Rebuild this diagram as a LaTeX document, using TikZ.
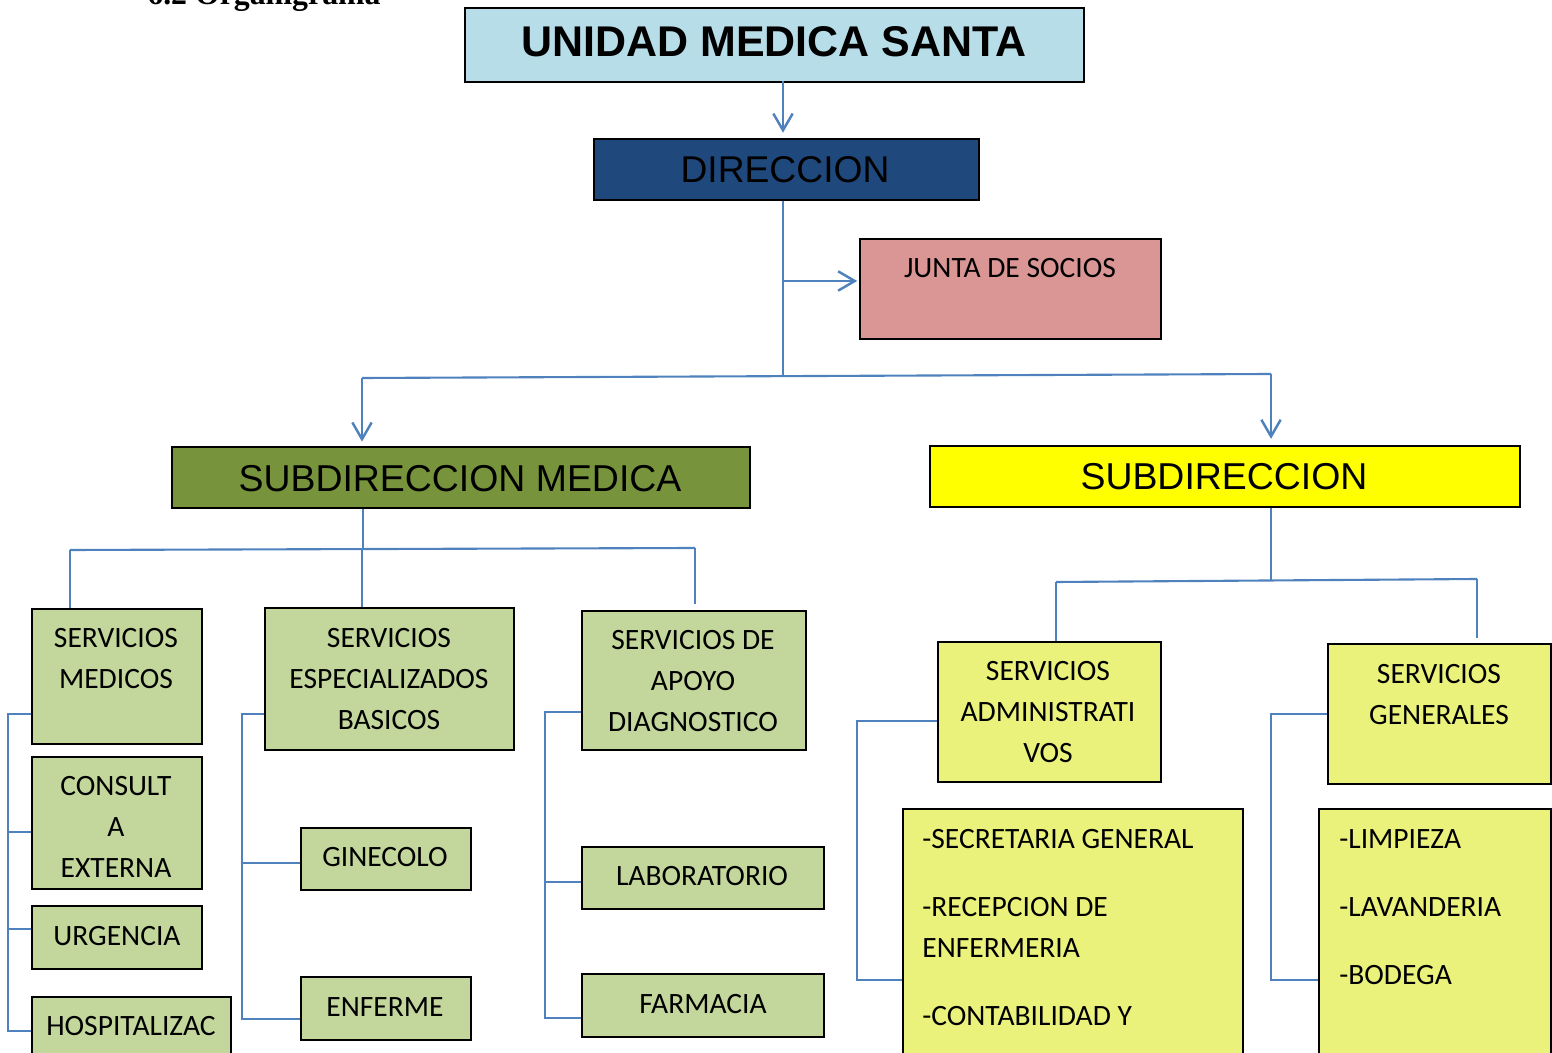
\documentclass[tikz,border=0pt]{standalone}
\usepackage{fontspec}
\setmainfont{Carlito}
\newfontfamily\arialf{Liberation Sans}
\newfontfamily\timesf{Liberation Serif}
\usetikzlibrary{arrows.meta}
\definecolor{lineblue}{HTML}{4F81BD}
\definecolor{titleblue}{HTML}{B7DDE8}
\definecolor{dirblue}{HTML}{1F497D}
\definecolor{juntared}{HTML}{D99694}
\definecolor{submedgreen}{HTML}{77933C}
\definecolor{subyellow}{HTML}{FFFF00}
\definecolor{lgreen}{HTML}{C3D69B}
\definecolor{lyellow}{HTML}{EBF27B}
\newcommand\bx[6]{\node[box,fill=#6,minimum width={(#4-#2)*0.02cm},minimum height={(#5-#3)*0.02cm}] (#1) at (#2,#3) {};}
\tikzset{
  conn/.style={draw=lineblue,line width=1.2pt},
  arr/.style={conn,-{Straight Barb[length=9.5pt,width=11pt,line width=1.4pt]}},
  box/.style={draw=black,line width=1.1pt,inner sep=0pt,anchor=north west},
  cal/.style={inner sep=0pt,align=center,anchor=north,font=\fontsize{16.8}{23.4}\selectfont},
  calL/.style={inner sep=0pt,align=left,anchor=north west,font=\fontsize{16.8}{23.4}\selectfont},
}
\begin{document}
\begin{tikzpicture}[x=0.02cm,y=-0.02cm]
\useasboundingbox (0,0) rectangle (1552,1053);
% heading (cut off at top, as in the reference)
\node[anchor=base west,inner sep=0pt,font=\timesf\bfseries\fontsize{18.1}{20}\selectfont] (head) at (147,5) {6.2 Organigrama};
% boxes
\bx{title}{464}{7}{1083}{81}{titleblue}
\bx{dir}{593}{138}{978}{199}{dirblue}
\bx{junta}{859}{238}{1160}{338}{juntared}
\bx{submed}{171}{446}{749}{507}{submedgreen}
\bx{sub}{929}{445}{1519}{506}{subyellow}
\bx{smed}{31}{608}{201}{743}{lgreen}
\bx{cons}{31}{756}{201}{888}{lgreen}
\bx{urg}{31}{905}{201}{968}{lgreen}
\bx{hosp}{31}{996}{230}{1066}{lgreen}
\bx{esp}{264}{607}{513}{749}{lgreen}
\bx{gine}{300}{827}{470}{889}{lgreen}
\bx{enfe}{300}{976}{470}{1039}{lgreen}
\bx{apoyo}{581}{610}{805}{749}{lgreen}
\bx{lab}{581}{846}{823}{908}{lgreen}
\bx{farm}{581}{973}{823}{1036}{lgreen}
\bx{adm}{937}{641}{1160}{781}{lyellow}
\bx{secr}{902}{808}{1242}{1070}{lyellow}
\bx{gen}{1327}{643}{1550}{783}{lyellow}
\bx{limp}{1318}{808}{1550}{1070}{lyellow}
% texts
\node[inner sep=0pt,font=\arialf\bfseries\fontsize{24.45}{28}\selectfont] (ttitle) at (774,42) {UNIDAD MEDICA SANTA};
\node[inner sep=0pt,font=\arialf\fontsize{21.2}{24}\selectfont] (tdir) at (785,170) {DIRECCION};
\node[cal] (tjunta) at (1010,258) {JUNTA DE SOCIOS};
\node[inner sep=0pt,font=\arialf\fontsize{21.3}{24}\selectfont] (tsubmed) at (460,479) {SUBDIRECCION MEDICA};
\node[inner sep=0pt,font=\arialf\fontsize{21.3}{24}\selectfont] (tsub) at (1224,477) {SUBDIRECCION};
\node[cal] (tsmed) at (116,628) {SERVICIOS\\MEDICOS};
\node[cal] (tcons) at (116,776) {CONSULT\\A\\EXTERNA};
\node[cal] (turg) at (117,926) {URGENCIA};
\node[cal] (thosp) at (131,1016) {HOSPITALIZAC};
\node[cal] (tesp) at (389,628) {SERVICIOS\\ESPECIALIZADOS\\BASICOS};
\node[cal] (tgine) at (385,847) {GINECOLO};
\node[cal] (tenfe) at (385,997) {ENFERME};
\node[cal] (tapoyo) at (693,630) {SERVICIOS DE\\APOYO\\DIAGNOSTICO};
\node[cal] (tlab) at (702,866) {LABORATORIO};
\node[cal] (tfarm) at (703,994) {FARMACIA};
\node[cal] (tadm) at (1048,661) {SERVICIOS\\ADMINISTRATI\\VOS};
\node[cal] (tgen) at (1439,664) {SERVICIOS\\GENERALES};
\node[calL] (ts1) at (922,829) {-SECRETARIA GENERAL};
\node[calL] (ts2) at (922,897) {-RECEPCION DE\\ENFERMERIA};
\node[calL] (ts3) at (922,1006) {-CONTABILIDAD Y};
\node[calL] (tl1) at (1339,829) {-LIMPIEZA};
\node[calL] (tl2) at (1339,897) {-LAVANDERIA};
\node[calL] (tl3) at (1339,965) {-BODEGA};
% connectors top
\coordinate (ta) at (783,81);
\draw[arr,shorten >=3pt] (ta) -- (ta |- dir.north);
\coordinate (d1) at (783,281);
\coordinate (d2) at (783,376);
\draw[conn] (d2 |- dir.south) -- (d2);
\draw[arr,shorten >=1pt] (d1) -- (junta.west |- d1);
\coordinate (bL) at (362,378);
\coordinate (bR) at (1271,374);
\draw[conn] (bL) -- (bR);
\draw[arr,shorten >=2.5pt] (bL) -- (bL |- submed.north);
\draw[arr,shorten >=3.5pt] (bR) -- (bR |- sub.north);
% left subtree
\coordinate (m0) at (363,550);
\draw[conn] (m0 |- submed.south) -- (m0);
\coordinate (m1) at (70,550);
\coordinate (m2) at (362,550);
\coordinate (m3) at (695,548);
\draw[conn] (m1) -- (m3);
\draw[conn] (m1) -- (m1 |- smed.north);
\draw[conn] (m2) -- (m2 |- esp.north);
\draw[conn] (m3) -- (695,604);
% bracket servicios medicos
\draw[conn] (smed.west |- 8,714) -- (8,714) -- (8,1031) -- (hosp.west |- 8,1031);
\draw[conn] (8,832) -- (cons.west |- 8,832);
\draw[conn] (8,929) -- (urg.west |- 8,929);
% bracket especializados
\draw[conn] (esp.west |- 242,714) -- (242,714) -- (242,1019) -- (enfe.west |- 242,1019);
\draw[conn] (242,863) -- (gine.west |- 242,863);
% bracket apoyo
\draw[conn] (apoyo.west |- 545,712) -- (545,712) -- (545,1018) -- (farm.west |- 545,1018);
\draw[conn] (545,882) -- (lab.west |- 545,882);
% right subtree
\coordinate (r0) at (1271,581);
\draw[conn] (r0 |- sub.south) -- (r0);
\coordinate (r1) at (1056,582);
\coordinate (r2) at (1477,579);
\draw[conn] (r1) -- (r2);
\draw[conn] (r1) -- (r1 |- adm.north);
\draw[conn] (r2) -- (1477,638);
\draw[conn] (adm.west |- 857,721) -- (857,721) -- (857,980) -- (secr.west |- 857,980);
\draw[conn] (gen.west |- 1271,714) -- (1271,714) -- (1271,980) -- (limp.west |- 1271,980);
\end{tikzpicture}
\end{document}
